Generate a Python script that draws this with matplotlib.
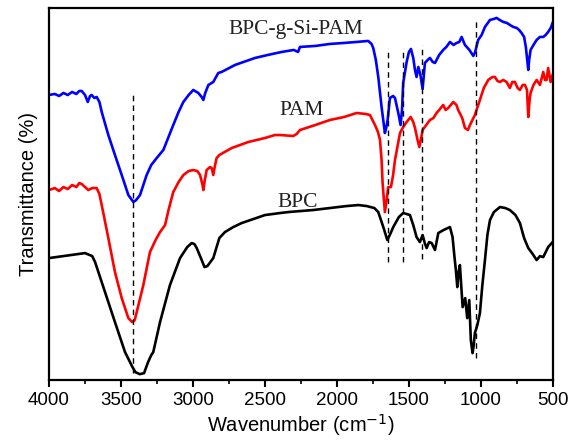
import matplotlib
matplotlib.use("Agg")
import matplotlib.pyplot as plt
from matplotlib.ticker import MultipleLocator
import numpy as np

# FTIR spectra (wavenumber, transmittance in arbitrary units)
bpc_wn = [4000, 3900, 3800, 3750, 3700, 3680, 3611, 3542, 3472, 3420, 3400, 3370, 3340, 3312, 3290,
          3276, 3229, 3160, 3090, 3040, 3009, 2990, 2974, 2945, 2920, 2900, 2859, 2817, 2778, 2720,
          2662, 2500, 2396, 2338, 2167, 2050, 1933, 1850, 1794, 1740, 1713, 1678, 1650, 1630, 1609,
          1570, 1540, 1515, 1493, 1470, 1447, 1424, 1405, 1390, 1377, 1360, 1342, 1319, 1296, 1260,
          1215, 1197, 1185, 1174, 1164, 1155, 1146, 1127, 1109, 1095, 1081, 1070, 1058, 1050, 1042,
          1025, 1007, 990, 972, 955, 937, 910, 868, 830, 799, 760, 729, 700, 671, 640,
          613, 590, 567, 550, 533, 502]
bpc_t = [122, 124, 126, 127, 124, 118, 88, 58, 28, 13, 8, 6, 7, 18, 25,
         28, 58, 95, 122, 133, 137, 136, 132, 122, 113, 114, 122, 142, 148, 153,
         157, 165, 167, 168, 170, 172, 174, 175, 174, 172, 168, 153, 140, 146, 153,
         163, 167, 166, 165, 155, 143, 138, 145, 137, 132, 138, 137, 130, 147, 150,
         153, 143, 125, 110, 93, 108, 115, 73, 82, 62, 80, 40, 27, 35, 47,
         55, 67, 95, 120, 145, 160, 168, 173, 172, 170, 165, 157, 142, 132, 126,
         120, 124, 123, 128, 133, 138]

pam_wn = [4000, 3960, 3930, 3900, 3870, 3840, 3810, 3790, 3773, 3750, 3727, 3700, 3669, 3650, 3634,
          3588, 3542, 3495, 3449, 3422, 3405, 3391, 3345, 3299, 3260, 3229, 3194, 3170, 3137, 3100,
          3067, 3030, 2998, 2970, 2951, 2935, 2928, 2918, 2905, 2882, 2870, 2859, 2848, 2836, 2817,
          2731, 2616, 2500, 2431, 2396, 2303, 2280, 2257, 2150, 2049, 1950, 1863, 1800, 1771, 1736,
          1715, 1701, 1690, 1683, 1667, 1655, 1644, 1625, 1610, 1597, 1562, 1540, 1516, 1488, 1470,
          1458, 1440, 1428, 1415, 1405, 1380, 1354, 1330, 1308, 1290, 1262, 1245, 1227, 1192, 1170,
          1158, 1130, 1111, 1090, 1076, 1042, 1007, 980, 949, 920, 903, 885, 868, 845, 822,
          799, 782, 764, 745, 729, 710, 694, 680, 671, 662, 655, 635, 613, 590, 567,
          555, 544, 533, 516, 502]
pam_t = [190, 192, 189, 193, 191, 195, 193, 197, 196, 193, 190, 192, 192, 186, 175,
         142, 108, 82, 62, 58, 60, 68, 95, 128, 140, 148, 155, 170, 188, 198,
         205, 209, 210, 209, 205, 196, 190, 200, 210, 213, 212, 205, 214, 222, 225,
         232, 238, 242, 245, 245, 244, 246, 250, 255, 260, 263, 267, 266, 265, 255,
         248, 240, 220, 197, 168, 180, 193, 193, 205, 220, 247, 253, 258, 263, 258,
         252, 240, 233, 242, 250, 255, 260, 262, 267, 270, 275, 270, 272, 278, 275,
         270, 262, 252, 250, 255, 265, 280, 292, 300, 303, 303, 299, 298, 300, 298,
         292, 298, 298, 292, 290, 295, 295, 290, 263, 280, 287, 295, 300, 295, 308,
         300, 300, 312, 298, 305]

graft_wn = [4000, 3960, 3930, 3900, 3870, 3840, 3810, 3790, 3773, 3750, 3731, 3715, 3704, 3685, 3669,
            3650, 3634, 3588, 3542, 3495, 3449, 3414, 3395, 3368, 3322, 3290, 3252, 3206, 3170, 3137,
            3100, 3067, 3030, 2998, 2963, 2940, 2928, 2915, 2893, 2859, 2840, 2824, 2801, 2708, 2569,
            2480, 2384, 2300, 2270, 2257, 2150, 2049, 1950, 1863, 1783, 1760, 1748, 1730, 1713, 1690,
            1667, 1658, 1648, 1632, 1610, 1597, 1574, 1558, 1548, 1540, 1516, 1500, 1486, 1470, 1458,
            1447, 1435, 1420, 1405, 1389, 1370, 1354, 1335, 1319, 1290, 1262, 1240, 1215, 1190, 1169,
            1150, 1134, 1111, 1080, 1053, 1040, 1019, 995, 972, 937, 910, 891, 870, 845, 820,
            799, 775, 752, 735, 718, 700, 688, 671, 665, 655, 635, 613, 590, 567, 550,
            533, 515, 502]
graft_t = [285, 286, 284, 287, 285, 288, 286, 289, 289, 285, 278, 284, 285, 282, 283,
           278, 268, 245, 225, 205, 185, 178, 180, 185, 205, 215, 222, 230, 243, 255,
           268, 278, 285, 290, 287, 283, 280, 287, 295, 298, 303, 307, 308, 315, 322,
           325, 328, 330, 328, 333, 334, 336, 337, 338, 339, 336, 332, 320, 303, 273,
           247, 252, 260, 282, 284, 282, 267, 255, 270, 297, 318, 328, 331, 322, 310,
           303, 313, 305, 291, 317, 320, 322, 318, 317, 325, 330, 333, 338, 335, 337,
           338, 343, 335, 330, 324, 328, 340, 345, 353, 360, 361, 362, 360, 358, 357,
           355, 353, 352, 350, 347, 343, 333, 310, 320, 330, 335, 340, 343, 343, 345,
           348, 352, 357]

# marked bands: wavenumber, lower and upper end of the dashed line
band_wn = [3420, 1646, 1540, 1408, 1035]
band_lo = [7, 118, 118, 121, 22]
band_hi = [285, 332, 332, 335, 362]

labels = ["BPC", "PAM", "BPC-g-Si-PAM"]
label_pos = [(2271, 178), (2243, 269), (2285, 350)]

plt.rcParams['font.family'] = ['Liberation Sans', 'DejaVu Sans']

fig = plt.figure(figsize=(5.7, 4.4), dpi=100)
ax = fig.add_axes([0.086, 0.136, 0.884, 0.846])

ax.plot(bpc_wn, bpc_t, color='black', lw=1.9)
ax.plot(pam_wn, pam_t, color='#ff0000', lw=1.9)
ax.plot(graft_wn, graft_t, color='#0000ff', lw=1.9)

ax.vlines(band_wn, band_lo, band_hi, colors='black', linestyles=(0, (4, 3)), lw=1.0)

for txt, (x, y) in zip(labels, label_pos):
    ax.text(x, y, txt, ha='center', va='center', fontsize=15.5,
            family='Liberation Serif', color='#222222')

ax.set_xlim(4000, 500)
ax.set_ylim(0, 372)
ax.xaxis.set_major_locator(MultipleLocator(500))
ax.xaxis.set_minor_locator(MultipleLocator(250))
ax.set_yticks([])
ax.tick_params(axis='x', which='major', direction='out', length=5, width=1.5,
               labelsize=13.5, top=False)
ax.tick_params(axis='x', which='minor', direction='out', length=3, width=1.2, top=False)
for s in ax.spines.values():
    s.set_linewidth(1.6)

ax.set_xlabel('Wavenumber (cm$^{-1}$)', fontsize=14.5, labelpad=2)
ax.set_ylabel('Transmittance (%)', fontsize=14.5, labelpad=8)

fig.savefig('out.png', dpi=100)
